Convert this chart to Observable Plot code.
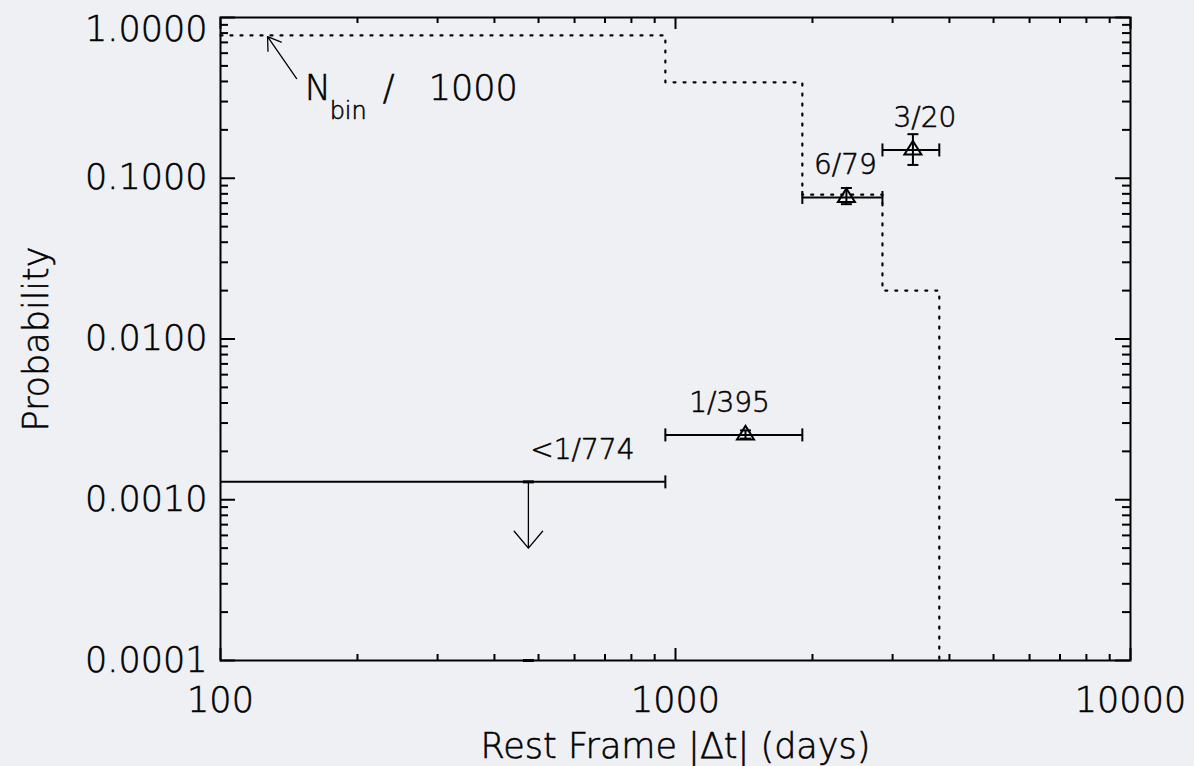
<!DOCTYPE html>
<html>
<head>
<meta charset="utf-8">
<script src="https://cdn.jsdelivr.net/npm/d3@7"></script>
<script src="https://cdn.jsdelivr.net/npm/@observablehq/plot@0.6"></script>
<style>
  html, body { margin: 0; padding: 0; background: #eff0f3; }
  #chart svg { display: block; }
  #chart svg text { stroke: #000; stroke-width: 0.55px; fill: #000; }
</style>
</head>
<body>
<div id="chart"></div>
<script>
// Rest-frame separation bins (days) and pair counts per bin
const binEdges = [0, 950, 1900, 2850, 3800];
const binCounts = [774, 395, 79, 20];
const binLabels = ["<1/774", "1/395", "6/79", "3/20"];
const probability = [1 / 774, 1 / 395, 6 / 79, 3 / 20];
const probLow = [null, 0.0024, 0.069, 0.121];
const probHigh = [null, 0.0027, 0.087, 0.188];
const isUpperLimit = [true, false, false, false];
const limitArrowTip = 0.0005;

const xTickValues = [100, 1000, 10000];
const yTickValues = [0.0001, 0.001, 0.01, 0.1, 1];

// layout
const W = 1194, H = 766;
const mL = 220, mR = 64, mT = 17, mB = 106;
const plotW = W - mL - mR, plotH = H - mT - mB;
const xDomain = [100, 10000], yDomain = [0.0001, 1];
const labelDx = [54, -16, -1, 12];

const bins = binCounts.map((n, i) => ({
  lo: Math.max(binEdges[i], xDomain[0]),
  hi: binEdges[i + 1],
  mid: (binEdges[i] + binEdges[i + 1]) / 2,
  p: probability[i],
  lo_p: probLow[i],
  hi_p: probHigh[i],
  limit: isUpperLimit[i],
  label: binLabels[i],
  dx: labelDx[i],
  nbin: n / 1000
}));
const measured = bins.filter(d => !d.limit);
const limits = bins.filter(d => d.limit);

// N_bin / 1000 step outline
const stepPts = bins.map(d => ({x: d.lo, y: d.nbin}));
stepPts.push({x: binEdges[binEdges.length - 1], y: yDomain[0]});

// minor ticks
const minor = (lo, hi) => {
  const out = [];
  for (let e = Math.log10(lo); e < Math.log10(hi); e++)
    for (let k = 2; k <= 9; k++) out.push(k * Math.pow(10, e));
  return out;
};
const xMinor = minor(xDomain[0], xDomain[1]);
const yMinor = minor(yDomain[0], yDomain[1]);

// marker shapes
const vCap = {draw(c) { c.moveTo(0, -6.5); c.lineTo(0, 6.5); }};
const hCap = {draw(c) { c.moveTo(-5.5, 0); c.lineTo(5.5, 0); }};
const tri = {draw(c) { c.moveTo(0, -9); c.lineTo(8.5, 4.5); c.lineTo(-8.5, 4.5); c.closePath(); }};

const font = "'DejaVu Sans', sans-serif";
const ink = "#000";

// annotation anchor (tail of the pointer to the dotted histogram)
const noteTail = {x: 147, y: 0.417};
const noteTip = {x: 126.9, y: 0.761};

const chart = Plot.plot({
  width: W, height: H,
  marginLeft: mL, marginRight: mR, marginTop: mT, marginBottom: mB,
  x: {type: "log", domain: xDomain},
  y: {type: "log", domain: yDomain},
  style: {background: "transparent", fontFamily: font, fontSize: "35px", color: ink, fontWeight: 200},
  marks: [
    // inward ticks on all four sides
    Plot.tickY(yTickValues, {y: d => d, insetRight: plotW - 15, strokeWidth: 2, stroke: ink}),
    Plot.tickY(yTickValues, {y: d => d, insetLeft: plotW - 15, strokeWidth: 2, stroke: ink}),
    Plot.tickY(yMinor, {y: d => d, insetRight: plotW - 8, strokeWidth: 2, stroke: ink}),
    Plot.tickY(yMinor, {y: d => d, insetLeft: plotW - 8, strokeWidth: 2, stroke: ink}),
    Plot.tickX(xTickValues, {x: d => d, insetTop: plotH - 12, strokeWidth: 2, stroke: ink}),
    Plot.tickX(xTickValues, {x: d => d, insetBottom: plotH - 12, strokeWidth: 2, stroke: ink}),
    Plot.tickX(xMinor, {x: d => d, insetTop: plotH - 6, strokeWidth: 2, stroke: ink}),
    Plot.tickX(xMinor, {x: d => d, insetBottom: plotH - 6, strokeWidth: 2, stroke: ink}),

    // tick labels and axis titles
    Plot.axisX({ticks: xTickValues, tickSize: 0, tickPadding: 27, tickFormat: d => String(d),
      label: "Rest Frame |Δt| (days)", labelAnchor: "center", labelOffset: 97, labelArrow: "none"}),
    Plot.axisY({ticks: yTickValues.filter(d => d < 1), tickSize: 0, tickPadding: 13,
      tickFormat: d => d.toFixed(4), label: "Probability", labelAnchor: "center",
      labelOffset: 197, labelArrow: "none"}),
    Plot.axisY({ticks: yTickValues.filter(d => d >= 1), tickSize: 0, tickPadding: 13,
      tickFormat: d => d.toFixed(4), label: null, dy: 12}),

    // N_bin / 1000 dotted histogram
    Plot.line(stepPts, {x: "x", y: "y", curve: "step-after", stroke: ink, strokeWidth: 2.2,
      strokeDasharray: "2 8"}),

    // horizontal (bin width) error bars
    Plot.ruleY(bins, {y: "p", x1: "lo", x2: "hi", stroke: ink, strokeWidth: 2}),
    Plot.dot(bins.filter(d => d.lo > xDomain[0]), {x: "lo", y: "p", symbol: vCap, stroke: ink, strokeWidth: 2, fill: "none"}),
    Plot.dot(bins, {x: "hi", y: "p", symbol: vCap, stroke: ink, strokeWidth: 2, fill: "none"}),

    // vertical error bars for measured bins
    Plot.ruleX(measured, {x: "mid", y1: "lo_p", y2: "hi_p", stroke: ink, strokeWidth: 2}),
    Plot.dot(measured, {x: "mid", y: "lo_p", symbol: hCap, stroke: ink, strokeWidth: 2, fill: "none"}),
    Plot.dot(measured, {x: "mid", y: "hi_p", symbol: hCap, stroke: ink, strokeWidth: 2, fill: "none"}),
    Plot.dot(measured, {x: "mid", y: "p", symbol: tri, stroke: ink, strokeWidth: 2, fill: "none"}),

    // upper limit for the first bin
    Plot.arrow(limits, {x: "mid", y1: "p", y2: () => limitArrowTip, stroke: ink, strokeWidth: 1.3,
      headLength: 26, headAngle: 80}),
    Plot.dot(limits, {x: "mid", y: "p", symbol: hCap, stroke: ink, strokeWidth: 3, fill: "none"}),
    Plot.dot(limits, {x: "mid", y: () => yDomain[0], symbol: hCap, stroke: ink, strokeWidth: 3, fill: "none"}),

    // bin labels (k / N)
    ...bins.map(b => Plot.text([b], {x: "mid", y: "p", text: "label", dx: b.dx, dy: -32,
      fontSize: 28, fill: ink})),

    // annotation for the dotted histogram
    Plot.arrow([noteTail], {x1: "x", y1: "y", x2: () => noteTip.x, y2: () => noteTip.y,
      stroke: ink, strokeWidth: 1.3, headLength: 17, headAngle: 66}),
    Plot.text([noteTail], {x: "x", y: "y", text: () => "N", textAnchor: "start", dx: 8, dy: 10, fontSize: 35, fill: ink}),
    Plot.text([noteTail], {x: "x", y: "y", text: () => "bin", textAnchor: "start", dx: 33, dy: 33, fontSize: 24, fill: ink}),
    Plot.text([noteTail], {x: "x", y: "y", text: () => "/", textAnchor: "start", dx: 86, dy: 10, fontSize: 35, fill: ink}),
    Plot.text([noteTail], {x: "x", y: "y", text: () => "1000", textAnchor: "start", dx: 132, dy: 10, fontSize: 35, fill: ink}),

    Plot.frame({stroke: ink, strokeWidth: 2})
  ]
});
document.getElementById("chart").appendChild(chart);
</script>
</body>
</html>
